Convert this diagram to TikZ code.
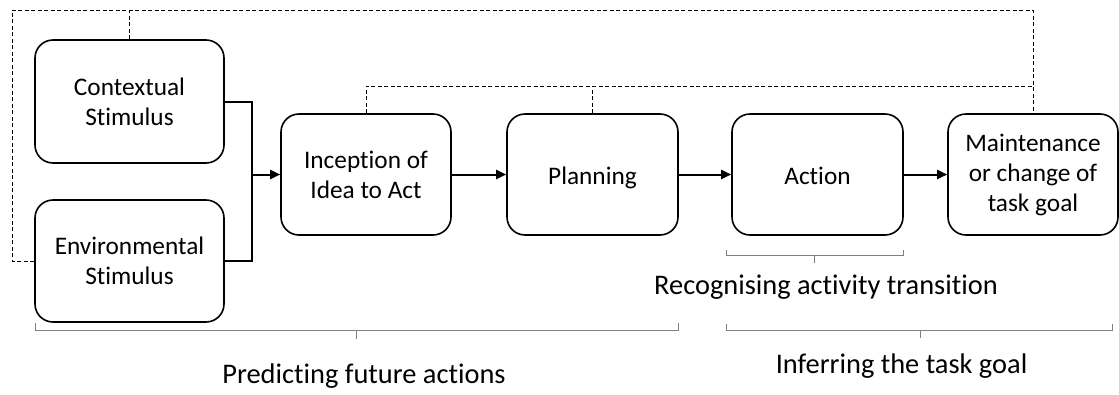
\documentclass[tikz,border=0pt]{standalone}
\usepackage{fontspec}
\setmainfont[Ligatures=NoCommon]{Carlito}
\usetikzlibrary{arrows.meta}
\begin{document}
\begin{tikzpicture}[x=1pt,y=-1pt,
  stage/.style={draw, line width=1.6pt, rounded corners=18pt, align=center,
    inner sep=0pt, font=\fontsize{25.3}{30}\selectfont},
  oneline/.style={text height=19pt, text depth=0pt},
  flow/.style={line width=2pt, -{Triangle[length=10pt,width=9pt]}},
  link/.style={line width=2pt},
  feedback/.style={line width=1pt, dash pattern=on 4pt off 2.5pt},
  bracket/.style={draw=black!50, line width=1pt},
  caption/.style={anchor=base, inner sep=0pt, font=\fontsize{28.4}{32}\selectfont}]
\useasboundingbox (0,0) rectangle (1119,394);

% stages
\node[stage, minimum width=189pt, minimum height=123pt] (ctx) at (129.5,101.5) {Contextual\\Stimulus};
\node[stage, minimum width=189pt, minimum height=122pt] (env) at (129.5,261) {Environmental\\Stimulus};
\node[stage, minimum width=170pt, minimum height=121pt] (inc) at (366,174.5) {Inception of\\Idea to Act};
\node[stage, oneline, minimum width=171pt, minimum height=121pt] (pln) at (592.5,174.5) {Planning};
\node[stage, oneline, minimum width=171pt, minimum height=121pt] (act) at (817.5,174.5) {Action};
\node[stage, minimum width=170pt, minimum height=121pt] (mnt) at (1033,174.5) {Maintenance\\or change of\\task goal};

% merging the two stimuli
\coordinate (j) at (252,174.5);
\draw[link] (ctx.east) -| (j) |- (env.east);
\draw[flow] (j) -- (inc.west);
\draw[flow] (inc) -- (pln);
\draw[flow] (pln) -- (act);
\draw[flow] (act) -- (mnt);

% feedback loops
\coordinate (top) at (0,10);
\coordinate (mid) at (0,86);
\draw[feedback] (env.west) -| (12,10) -| (mnt.north);
\draw[feedback] (ctx.north) -- (ctx.north |- top);
\draw[feedback] (inc.north) |- (mnt.north |- mid);
\draw[feedback] (pln.north) -- (pln.north |- mid);

% brackets
\draw[bracket] (35,323) -- (35,330) -- (678,330) -- (678,323);
\draw[bracket] (356,330) -- (356,339);
\draw[bracket] (726,250) -- (726,255) -- (903,255) -- (903,250);
\draw[bracket] (814,255) -- (814,263);
\draw[bracket] (726,324) -- (726,330) -- (1112,330) -- (1112,324);
\draw[bracket] (920,330) -- (920,338);

% captions
\node[caption] (pfa) at (364,383) {Predicting future actions};
\node[caption] (rat) at (826,294) {Recognising activity transition};
\node[caption] (itg) at (901.5,373) {Inferring the task goal};
\end{tikzpicture}
\end{document}
